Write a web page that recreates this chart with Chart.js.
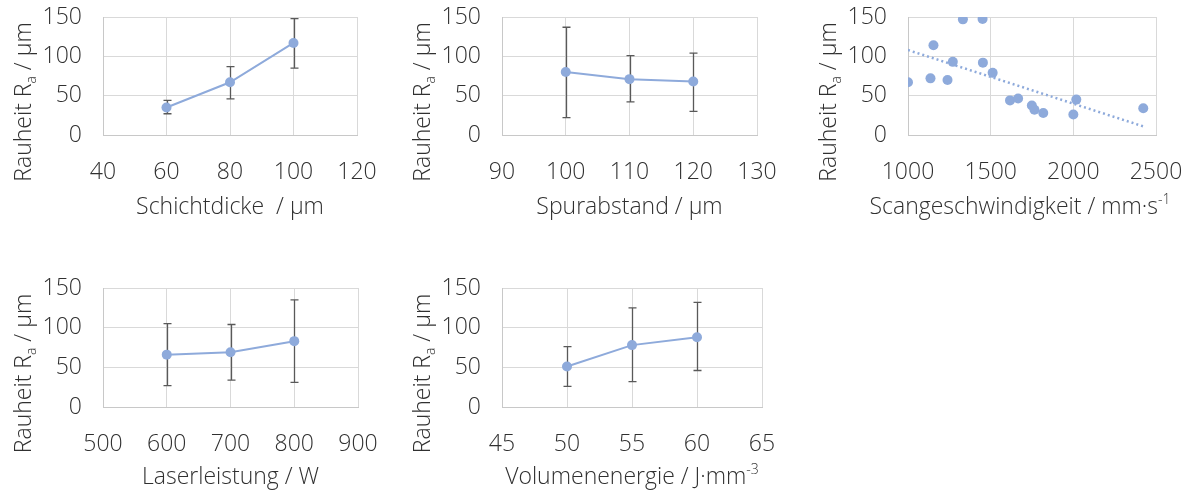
<!DOCTYPE html>
<html>
<head>
<meta charset="utf-8">
<script src="https://cdn.jsdelivr.net/npm/chart.js@4.4.1/dist/chart.umd.min.js"></script>
<style>
  html, body { margin: 0; padding: 0; background: #ffffff; }
  body { width: 1189px; height: 490px; position: relative; overflow: hidden; }
  canvas { position: absolute; }
</style>
</head>
<body>
<canvas id="c1" width="400" height="240" style="left:0px;top:0px"></canvas>
<canvas id="c2" width="400" height="240" style="left:400px;top:0px"></canvas>
<canvas id="c3" width="389" height="240" style="left:800px;top:0px"></canvas>
<canvas id="c4" width="400" height="230" style="left:0px;top:260px"></canvas>
<canvas id="c5" width="400" height="230" style="left:400px;top:260px"></canvas>
<script>
// ---------- data ----------
const yTicks = [0, 50, 100, 150];

const schichtdicke = [60, 80, 100];
const rauheitSchicht = [35, 67, 117];
const rauheitSchichtLow = [27, 46, 85];
const rauheitSchichtHigh = [44, 87, 148];

const spurabstand = [100, 110, 120];
const rauheitSpur = [80, 71, 68];
const rauheitSpurLow = [22, 42, 30];
const rauheitSpurHigh = [137, 101, 104];

const scanSpeed = [1000, 1136, 1154, 1239, 1271, 1332, 1451, 1453, 1512, 1617, 1666, 1749, 1765, 1818, 2000, 2018, 2423];
const rauheitScan = [67, 72, 114, 70, 93, 147, 147.5, 92, 79, 44, 46.5, 37.5, 32, 28, 26, 45, 34];
const trendX = [1000, 2423];
const trendY = [108, 11];

const laserleistung = [600, 700, 800];
const rauheitLaser = [66, 69, 83];
const rauheitLaserLow = [27, 34, 31];
const rauheitLaserHigh = [105, 104, 135];

const volumenenergie = [50, 55, 60];
const rauheitVol = [51, 78, 88];
const rauheitVolLow = [26, 32, 46];
const rauheitVolHigh = [76, 125, 132];

const ticks1 = [40, 60, 80, 100, 120];
const ticks2 = [90, 100, 110, 120, 130];
const ticks3 = [1000, 1500, 2000, 2500];
const ticks4 = [500, 600, 700, 800, 900];
const ticks5 = [45, 50, 55, 60, 65];

const yTitle = [{t: 'Rauheit R'}, {t: 'a', sub: true}, {t: ' / µm'}];
const xTitle1 = [{t: 'Schichtdicke  / µm'}];
const xTitle2 = [{t: 'Spurabstand / µm'}];
const xTitle3 = [{t: 'Scangeschwindigkeit / mm·s'}, {t: '-1', sup: true}];
const xTitle4 = [{t: 'Laserleistung / W'}];
const xTitle5 = [{t: 'Volumenenergie / J·mm'}, {t: '-3', sup: true}];

// ---------- style ----------
const FONT = "'Open Sans', 'DejaVu Sans', sans-serif";
const WEIGHT = 300;
const TEXT = '#303030';
const BLUE = '#8EAADB';
const GRID = '#D9D9D9';
const FS = 23;

function drawRich(ctx, segs, cx, cy) {
  const small = Math.round(FS * 0.6);
  let total = 0;
  const widths = segs.map(s => {
    ctx.font = `${WEIGHT} ${(s.sub || s.sup) ? small : FS}px ${FONT}`;
    const w = ctx.measureText(s.t).width;
    total += w;
    return w;
  });
  let x = cx - total / 2;
  ctx.textBaseline = 'alphabetic';
  ctx.textAlign = 'left';
  ctx.fillStyle = TEXT;
  segs.forEach((s, i) => {
    ctx.font = `${WEIGHT} ${(s.sub || s.sup) ? small : FS}px ${FONT}`;
    let dy = 0;
    if (s.sub) dy = 5;
    if (s.sup) dy = -10;
    ctx.fillText(s.t, x, cy + FS * 0.36 + dy);
    x += widths[i];
  });
}

const titlesPlugin = {
  id: 'richTitles',
  afterDraw(chart, args, opts) {
    const ctx = chart.ctx;
    const a = chart.chartArea;
    ctx.save();
    drawRich(ctx, opts.x, (a.left + a.right) / 2 + (opts.xdx || 0), a.bottom + (opts.xdy || 71));
    ctx.translate(a.left - 80, (a.top + a.bottom) / 2 + 26);
    ctx.rotate(-Math.PI / 2);
    drawRich(ctx, opts.y, 0, 0);
    ctx.restore();
  }
};

const errorBarPlugin = {
  id: 'errorBars',
  beforeDatasetsDraw(chart, args, opts) {
    if (!opts.xs) return;
    const ctx = chart.ctx;
    const xS = chart.scales.x, yS = chart.scales.y;
    ctx.save();
    ctx.strokeStyle = '#595959';
    ctx.lineWidth = 1.3;
    opts.xs.forEach((xv, i) => {
      const px = Math.round(xS.getPixelForValue(xv)) + 0.5;
      const yl = yS.getPixelForValue(opts.low[i]);
      const yh = yS.getPixelForValue(opts.high[i]);
      ctx.beginPath();
      ctx.moveTo(px, yl); ctx.lineTo(px, yh);
      ctx.moveTo(px - 4, yl); ctx.lineTo(px + 4, yl);
      ctx.moveTo(px - 4, yh); ctx.lineTo(px + 4, yh);
      ctx.stroke();
    });
    ctx.restore();
  }
};

function pts(xs, ys) { return xs.map((x, i) => ({x: x, y: ys[i]})); }

function makeChart(id, cfg) {
  const datasets = [{
    data: pts(cfg.xs, cfg.ys),
    showLine: cfg.line,
    borderColor: BLUE,
    backgroundColor: BLUE,
    borderWidth: 2,
    pointRadius: 5,
    pointBorderWidth: 0,
    pointBackgroundColor: BLUE,
    order: 1
  }];
  if (cfg.trend) {
    datasets.push({
      data: pts(cfg.trend[0], cfg.trend[1]),
      showLine: true,
      borderColor: BLUE,
      borderWidth: 2.5,
      borderDash: [2, 3],
      pointRadius: 0,
      order: 2
    });
  }
  const canvas = document.getElementById(id);
  const T = cfg.area; // target chart area in canvas coords [left, top, right, bottom]
  const XH = 60;
  const padding = { left: 0, top: T[1], right: canvas.width - T[2], bottom: canvas.height - T[3] - XH };
  const chart = new Chart(canvas, {
    type: 'scatter',
    data: { datasets: datasets },
    options: {
      responsive: false,
      animation: false,
      devicePixelRatio: 1,
      layout: { padding: padding },
      plugins: {
        legend: { display: false },
        tooltip: { enabled: false },
        richTitles: { x: cfg.xTitle, y: yTitle, xdx: cfg.xdx || 0, xdy: cfg.xdy || 71 },
        errorBars: cfg.err ? { xs: cfg.xs, low: cfg.err[0], high: cfg.err[1] } : {}
      },
      scales: {
        x: {
          type: 'linear', min: cfg.xr[0], max: cfg.xr[1],
          afterFit: s => { s.height = XH; },
          afterBuildTicks: s => { s.ticks = cfg.xticks.map(v => ({value: v})); },
          grid: { color: GRID, drawTicks: true, tickLength: 24, tickColor: 'rgba(0,0,0,0)', lineWidth: 1 },
          border: { color: '#C8C8C8', width: 1 },
          ticks: { color: TEXT, font: { family: FONT, size: FS, weight: WEIGHT }, padding: 0, maxRotation: 0, autoSkip: false,
                   callback: v => String(v) }
        },
        y: {
          type: 'linear', min: 0, max: 150,
          afterFit: s => { s.width = T[0]; },
          afterBuildTicks: s => { s.ticks = yTicks.map(v => ({value: v})); },
          grid: { color: GRID, drawTicks: true, tickLength: 21, tickColor: 'rgba(0,0,0,0)', lineWidth: 1 },
          border: { color: '#C8C8C8', width: 1 },
          ticks: { color: TEXT, font: { family: FONT, size: FS, weight: WEIGHT }, padding: 0,
                   callback: v => String(v) }
        }
      }
    },
    plugins: [titlesPlugin, errorBarPlugin]
  });
  // nudge layout padding so that the plot area lands on the target box
  for (let k = 0; k < 3; k++) {
    const a = chart.chartArea;
    const p = chart.options.layout.padding;
    p.top += T[1] - a.top;
    p.bottom += a.bottom - T[3];
    p.right += a.right - T[2];
    chart.update();
  }
}

makeChart('c1', { xs: schichtdicke, ys: rauheitSchicht, err: [rauheitSchichtLow, rauheitSchichtHigh], line: true,
  xr: [40, 120], xticks: ticks1, xTitle: xTitle1, area: [103, 17, 357, 135] });
makeChart('c2', { xs: spurabstand, ys: rauheitSpur, err: [rauheitSpurLow, rauheitSpurHigh], line: true,
  xr: [90, 130], xticks: ticks2, xTitle: xTitle2, area: [102, 17, 357, 135] });
makeChart('c3', { xs: scanSpeed, ys: rauheitScan, line: false, trend: [trendX, trendY],
  xr: [1000, 2500], xticks: ticks3, xTitle: xTitle3, xdx: -12, area: [108, 17, 356, 135] });
makeChart('c4', { xs: laserleistung, ys: rauheitLaser, err: [rauheitLaserLow, rauheitLaserHigh], line: true,
  xr: [500, 900], xticks: ticks4, xTitle: xTitle4, xdy: 69, area: [103, 28, 358, 147] });
makeChart('c5', { xs: volumenenergie, ys: rauheitVol, err: [rauheitVolLow, rauheitVolHigh], line: true,
  xr: [45, 65], xticks: ticks5, xTitle: xTitle5, xdy: 69, area: [102, 28, 362, 147] });
</script>
</body>
</html>
